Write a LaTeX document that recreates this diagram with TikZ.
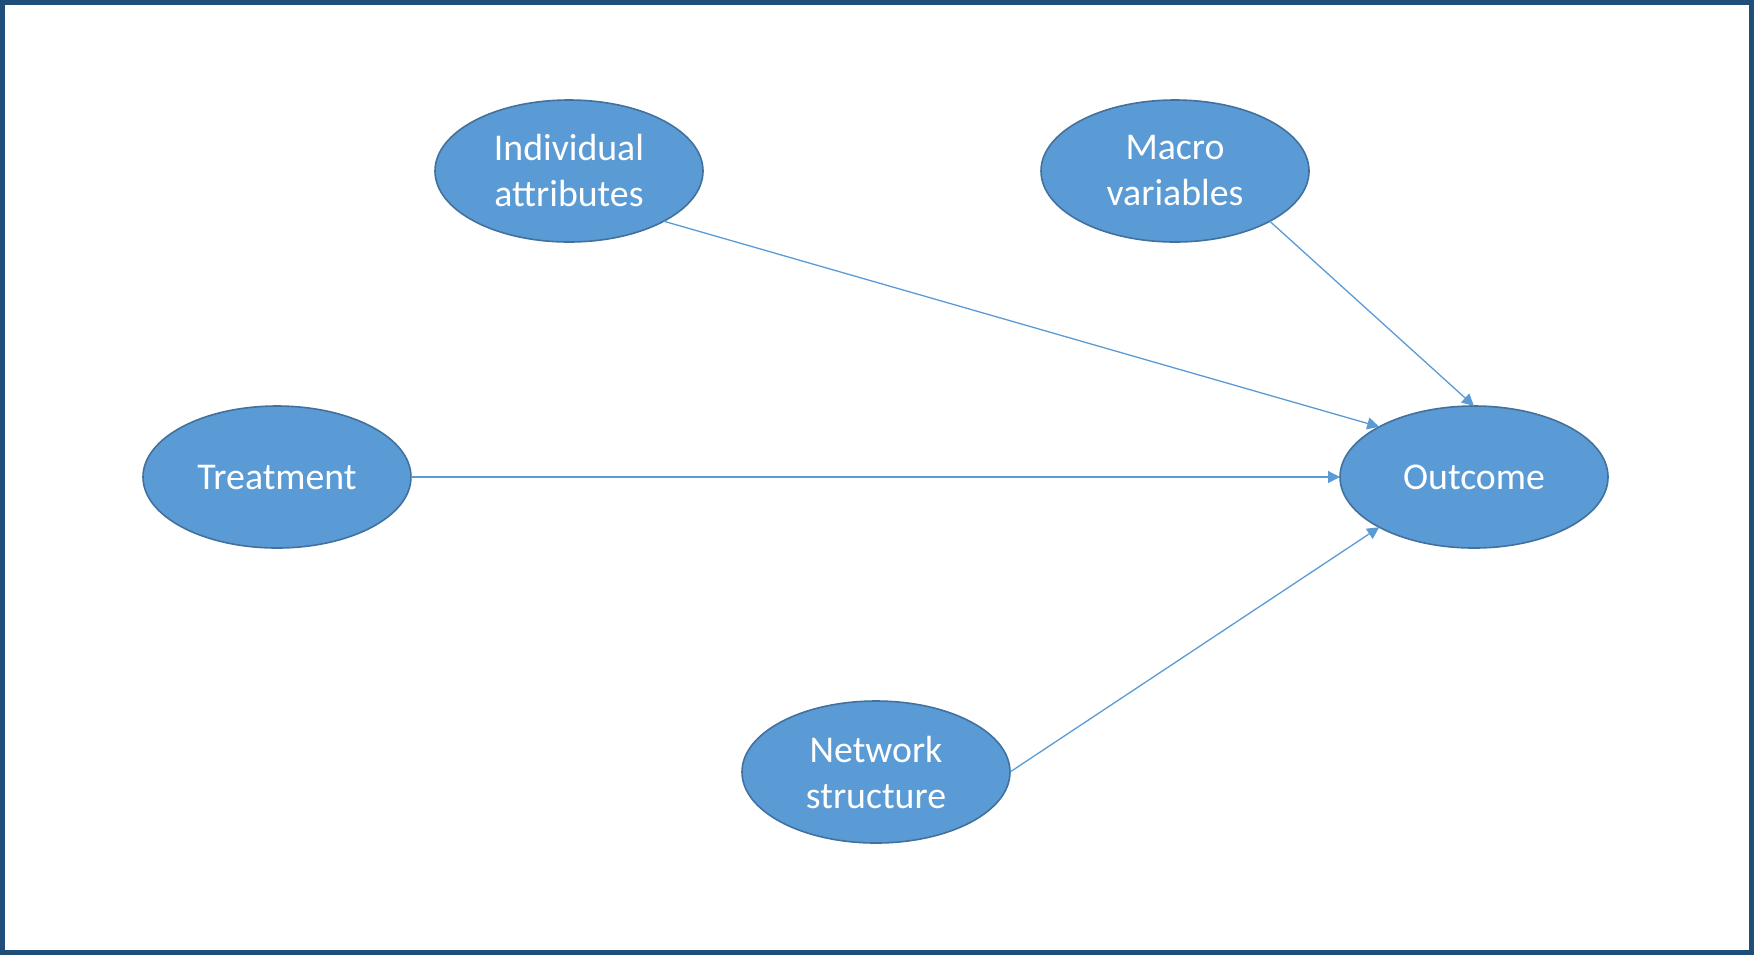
\documentclass[tikz,border=0pt]{standalone}
\usepackage{fontspec}
\setmainfont{Carlito}
\usetikzlibrary{shapes.geometric,arrows.meta}
\definecolor{nodefill}{HTML}{5B9BD5}
\definecolor{nodeline}{HTML}{41719C}
\definecolor{frame}{HTML}{1F4E79}
\begin{document}
\begin{tikzpicture}[x=0.5pt,y=-0.5pt,
  var/.style={ellipse,fill=nodefill,draw=nodeline,line width=0.8pt,
    minimum width=134pt,minimum height=71pt,inner sep=0pt,outer sep=0pt,
    text=white,align=center,font=\fontsize{18.9pt}{23pt}\selectfont},
  link/.style={draw=nodefill,line width=0.65pt,-{Triangle[length=6pt,width=6pt]}}]
\useasboundingbox (0,0) rectangle (1754,955);
\fill[white] (0,0) rectangle (1754,955);
\draw[frame,line width=2.5pt] (2.5,2.5) rectangle (1751.5,952.5);
\node[var] (ind) at (569,171) {Individual\\attributes};
\node[var] (mac) at (1175,171) {Macro\\variables};
\node[var] (tre) at (277,477) {Treatment};
\node[var] (out) at (1474,477) {Outcome};
\node[var] (net) at (876,772) {Network\\structure};
\draw[link] (ind.south east) -- (out.north west);
\draw[link] (mac.south east) -- (out.north);
\draw[link] (tre.east) -- (out.west);
\draw[link] (net.east) -- (out.south west);
\end{tikzpicture}
\end{document}
